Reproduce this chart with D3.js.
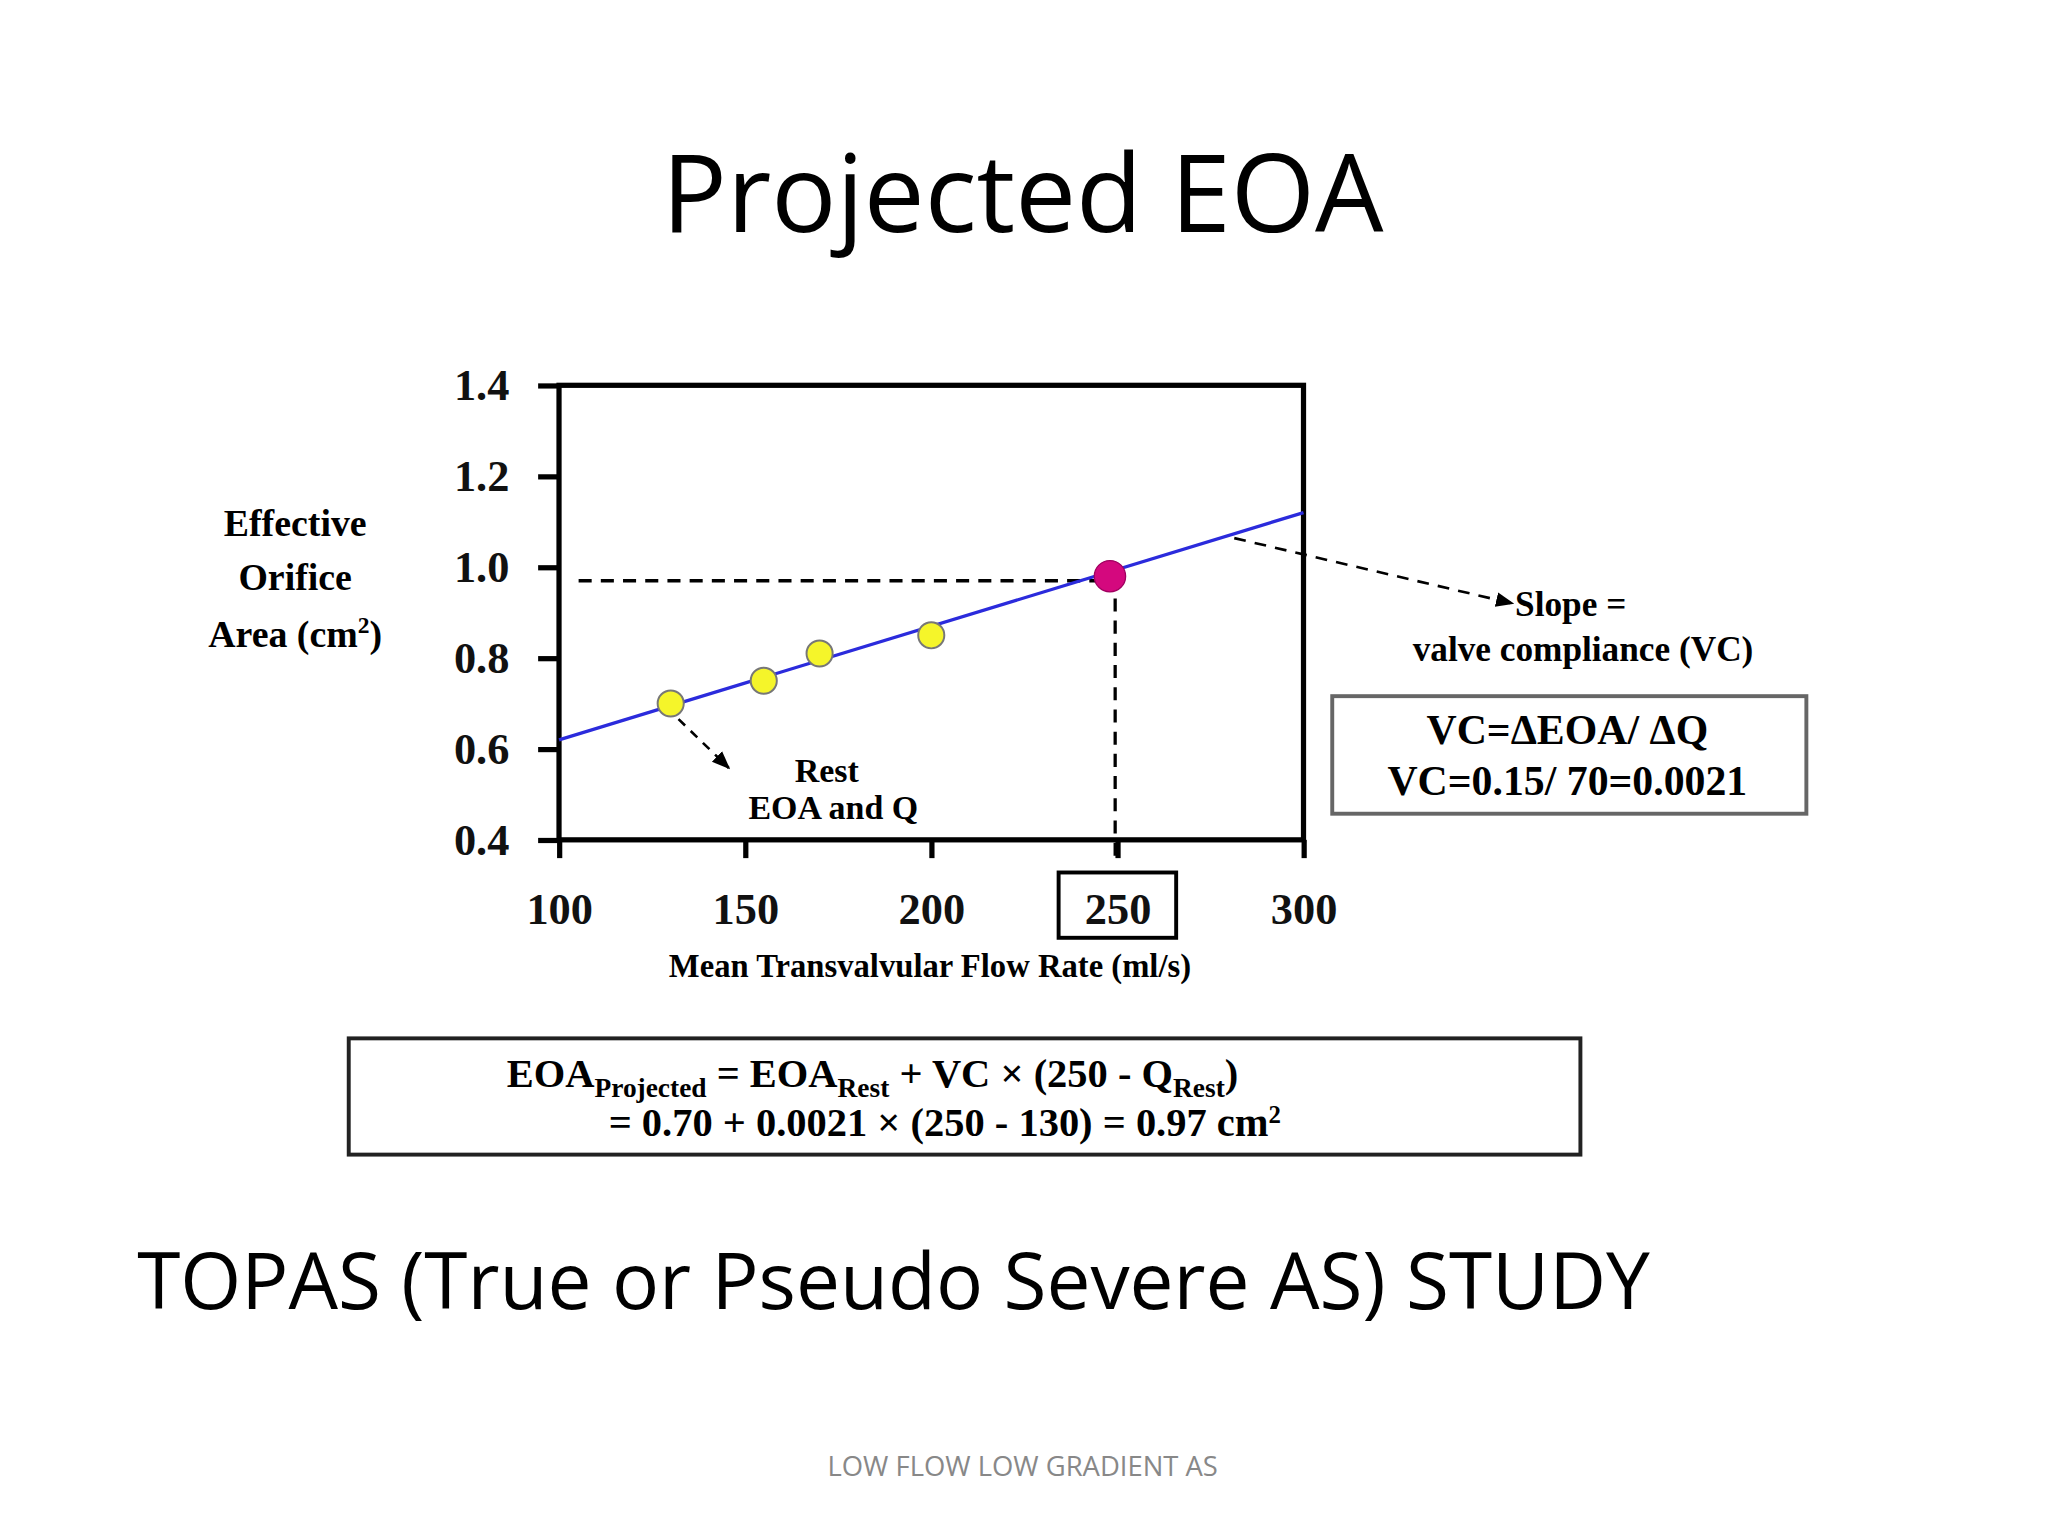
<!DOCTYPE html>
<meta charset="utf-8">
<html lang="en"></html>
<style>body{margin:0;background:#fff}</style>
<script src="https://d3js.org/d3.v7.min.js"></script>
<div id="chart"></div>
<script>
    // data
    const restFlow = [130, 155, 170, 200];
    const restEOA = [0.70, 0.75, 0.81, 0.85];
    const projected = {q: 248, eoa: 0.98};
    const fitLine = [[100, 0.62], [300, 1.12]];
    const xTicks = [100, 150, 200, 250, 300];
    const yTicks = [0.4, 0.6, 0.8, 1.0, 1.2, 1.4];

    const W = 1568, H = 1176;
    const serif = "'Liberation Serif', 'DejaVu Serif', serif";
    const sans = "'Open Sans', 'Noto Sans', sans-serif";

    const svg = d3.select("#chart").append("svg")
        .attr("width", 2048).attr("height", 1536)
        .attr("viewBox", "0 0 " + W + " " + H);

    svg.append("defs").append("marker")
        .attr("id", "ah").attr("viewBox", "0 0 10 10")
        .attr("refX", 9).attr("refY", 5)
        .attr("markerWidth", 7).attr("markerHeight", 7).attr("orient", "auto")
        .append("path").attr("d", "M0,1L10,5L0,9Z").attr("fill", "#000");

    // title
    svg.append("text").text("Projected EOA")
        .attr("x", 783).attr("y", 178).attr("text-anchor", "middle")
        .style("font-family", sans).style("font-size", "83px");

    const x = d3.scaleLinear().domain([100, 300]).range([428, 998]);
    const y = d3.scaleLinear().domain([0.4, 1.4]).range([643, 295]);

    // frame
    svg.append("rect").attr("x", x(100)).attr("y", y(1.4))
        .attr("width", x(300) - x(100)).attr("height", y(0.4) - y(1.4))
        .attr("fill", "none").attr("stroke", "#000").attr("stroke-width", 4);

    // axes
    const ya = svg.append("g").attr("transform", "translate(" + x(100) + ",0)")
        .call(d3.axisLeft(y).tickValues(yTicks).tickFormat(d3.format(".1f")).tickSize(16).tickPadding(22));
    const xa = svg.append("g").attr("transform", "translate(0," + y(0.4) + ")")
        .call(d3.axisBottom(x).tickValues(xTicks).tickSize(14).tickPadding(26));
    [ya, xa].forEach(function(a) {
        a.select(".domain").remove();
        a.selectAll("line").attr("stroke-width", 4);
        a.selectAll("text").style("font-family", serif).style("font-weight", "bold")
            .style("font-size", "34px").attr("fill", "#111");
    });
    // box around 250
    svg.append("rect").attr("x", x(250) - 45).attr("y", 668)
        .attr("width", 90).attr("height", 50)
        .attr("fill", "none").attr("stroke", "#000").attr("stroke-width", 3);

    // axis titles
    svg.append("text").text("Mean Transvalvular Flow Rate (ml/s)")
        .attr("x", 712).attr("y", 748).attr("text-anchor", "middle")
        .style("font-family", serif).style("font-weight", "bold").style("font-size", "25px");
    const yt = svg.append("text").attr("text-anchor", "middle")
        .style("font-family", serif).style("font-weight", "bold").style("font-size", "29px");
    yt.append("tspan").attr("x", 226).attr("y", 410).text("Effective");
    yt.append("tspan").attr("x", 226).attr("y", 452).text("Orifice");
    yt.append("tspan").attr("x", 226).attr("y", 495).text("Area (cm");
    yt.append("tspan").attr("dy", -10).style("font-size", "18px").text("2");
    yt.append("tspan").attr("dy", 10).text(")");

    // dashed projections
    svg.append("line").attr("x1", 443).attr("x2", x(projected.q))
        .attr("y1", y(0.97)).attr("y2", y(0.97))
        .attr("stroke", "#000").attr("stroke-width", 2.5).attr("stroke-dasharray", "10,7");
    svg.append("line").attr("x1", x(projected.q) + 4).attr("x2", x(projected.q) + 4)
        .attr("y1", y(projected.eoa)).attr("y2", y(0.4) + 14)
        .attr("stroke", "#000").attr("stroke-width", 2.5).attr("stroke-dasharray", "10,7");

    // fit line
    svg.append("path").datum(fitLine)
        .attr("d", d3.line().x(d => x(d[0])).y(d => y(d[1])))
        .attr("stroke", "#2b2bdc").attr("stroke-width", 2.5).attr("fill", "none");

    // points
    svg.selectAll("circle.rest").data(restFlow).enter().append("circle")
        .attr("class", "rest")
        .attr("cx", d => x(d)).attr("cy", (d, i) => y(restEOA[i])).attr("r", 10)
        .attr("fill", "#f5f52a").attr("stroke", "#777").attr("stroke-width", 1.5);
    svg.append("circle").attr("cx", x(projected.q)).attr("cy", y(projected.eoa)).attr("r", 12)
        .attr("fill", "#d4087e").attr("stroke", "#a00060").attr("stroke-width", 1);

    // annotations
    svg.append("line").attr("x1", x(130) + 6).attr("y1", y(0.70) + 12)
        .attr("x2", 558).attr("y2", 588)
        .attr("stroke", "#000").attr("stroke-width", 2).attr("stroke-dasharray", "7,6")
        .attr("marker-end", "url(#ah)");
    const rest = svg.append("text").attr("text-anchor", "middle")
        .style("font-family", serif).style("font-weight", "bold").style("font-size", "26px");
    rest.append("tspan").attr("x", 633).attr("y", 599).text("Rest");
    rest.append("tspan").attr("x", 638).attr("y", 627).text("EOA and Q");

    svg.append("line").attr("x1", 945).attr("y1", 412).attr("x2", 1158).attr("y2", 462)
        .attr("stroke", "#000").attr("stroke-width", 2).attr("stroke-dasharray", "9,7")
        .attr("marker-end", "url(#ah)");
    svg.append("text").text("Slope =").attr("x", 1160).attr("y", 472)
        .style("font-family", serif).style("font-weight", "bold").style("font-size", "27px");
    svg.append("text").text("valve compliance (VC)").attr("x", 1212).attr("y", 506)
        .attr("text-anchor", "middle")
        .style("font-family", serif).style("font-weight", "bold").style("font-size", "27px");

    svg.append("rect").attr("x", 1020).attr("y", 533).attr("width", 363).attr("height", 90)
        .attr("fill", "none").attr("stroke", "#666").attr("stroke-width", 3);
    svg.append("text").text("VC=ΔEOA/ ΔQ").attr("x", 1200).attr("y", 570)
        .attr("text-anchor", "middle")
        .style("font-family", serif).style("font-weight", "bold").style("font-size", "32px");
    svg.append("text").text("VC=0.15/ 70=0.0021").attr("x", 1200).attr("y", 609)
        .attr("text-anchor", "middle")
        .style("font-family", serif).style("font-weight", "bold").style("font-size", "32px");

    // formula box
    svg.append("rect").attr("x", 267).attr("y", 795).attr("width", 943).attr("height", 89)
        .attr("fill", "none").attr("stroke", "#222").attr("stroke-width", 3);
    const f1 = svg.append("text").attr("x", 388).attr("y", 832)
        .style("font-family", serif).style("font-weight", "bold").style("font-size", "31px");
    f1.append("tspan").text("EOA");
    f1.append("tspan").attr("dy", 8).style("font-size", "21px").text("Projected");
    f1.append("tspan").attr("dy", -8).text("  = EOA");
    f1.append("tspan").attr("dy", 8).style("font-size", "21px").text("Rest");
    f1.append("tspan").attr("dy", -8).text(" + VC × (250 - Q");
    f1.append("tspan").attr("dy", 8).style("font-size", "21px").text("Rest");
    f1.append("tspan").attr("dy", -8).text(")");
    const f2 = svg.append("text").attr("x", 466).attr("y", 870)
        .style("font-family", serif).style("font-weight", "bold").style("font-size", "31px");
    f2.append("tspan").text("= 0.70 + 0.0021 × (250 - 130) = 0.97 cm");
    f2.append("tspan").attr("dy", -10).style("font-size", "19px").text("2");

    svg.append("text").text("TOPAS (True or Pseudo Severe AS) STUDY")
        .attr("x", 105).attr("y", 1002)
        .style("font-family", sans).style("font-size", "60px");

    svg.append("text").text("LOW FLOW LOW GRADIENT  AS")
        .attr("x", 783).attr("y", 1130).attr("text-anchor", "middle")
        .attr("fill", "#888").style("font-family", sans).style("font-size", "21px");
</script>
